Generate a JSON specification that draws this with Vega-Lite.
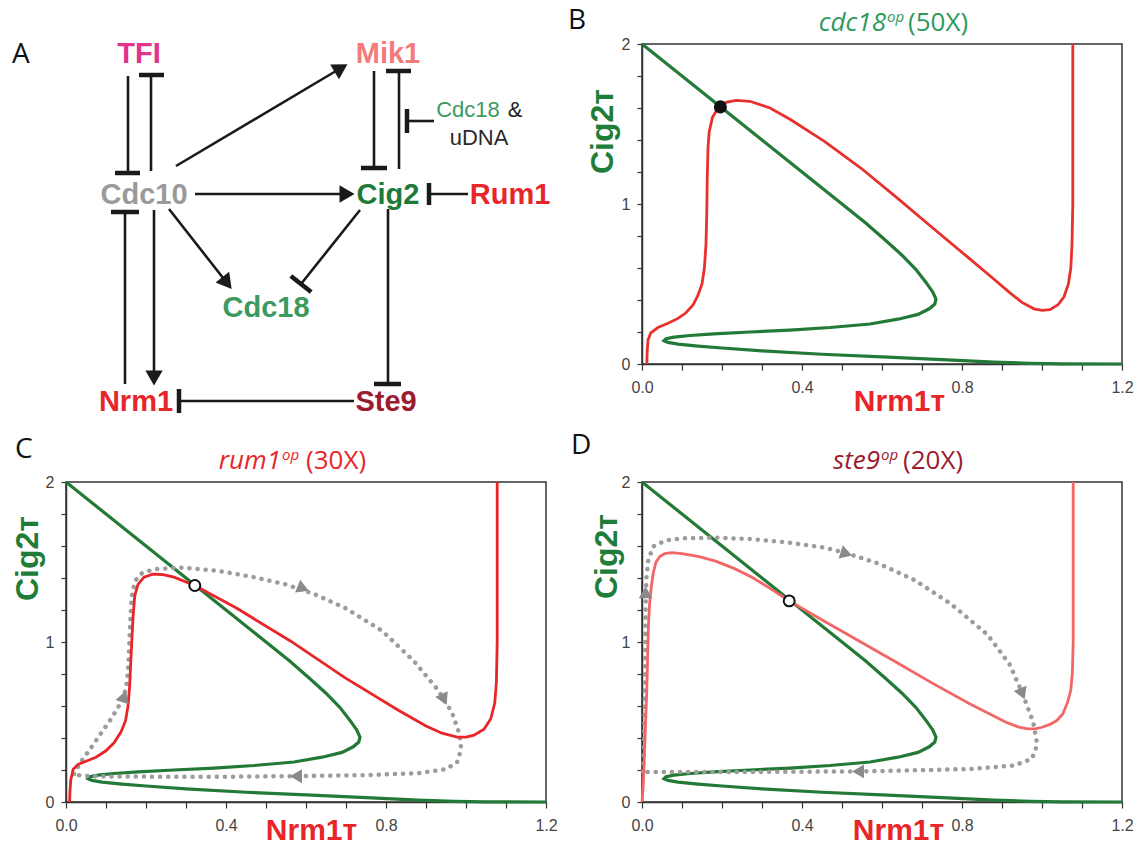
{
  "$schema": "https://vega.github.io/schema/vega-lite/v6.json",
  "padding": {"left": 10, "top": 6, "right": 0, "bottom": 0},
  "config": {
    "font": "Liberation Sans",
    "view": {"stroke": "#333333", "strokeWidth": 1.5},
    "axis": {"grid": false, "domainColor": "#333333", "domainWidth": 1.5, "tickColor": "#333333", "tickWidth": 1.2, "labelFont": "Liberation Sans", "labelFontSize": 16, "labelColor": "#444444", "labelOverlap": false, "labelFlush": false, "titleFont": "Liberation Sans", "titleFontWeight": "bold", "titleFontSize": 30}
  },
  "datasets": {
    "green": [{"x":0,"y":2},{"x":0.1,"y":1.8},{"x":0.2,"y":1.6},{"x":0.3,"y":1.4},{"x":0.4,"y":1.2},{"x":0.5,"y":1.0},{"x":0.56,"y":0.88},{"x":0.61,"y":0.77},{"x":0.65,"y":0.68},{"x":0.685,"y":0.59},{"x":0.71,"y":0.51},{"x":0.727,"y":0.45},{"x":0.735,"y":0.405},{"x":0.732,"y":0.375},{"x":0.718,"y":0.345},{"x":0.69,"y":0.31},{"x":0.64,"y":0.28},{"x":0.57,"y":0.25},{"x":0.47,"y":0.228},{"x":0.37,"y":0.212},{"x":0.27,"y":0.2},{"x":0.18,"y":0.188},{"x":0.12,"y":0.178},{"x":0.08,"y":0.168},{"x":0.06,"y":0.158},{"x":0.055,"y":0.146},{"x":0.065,"y":0.135},{"x":0.09,"y":0.124},{"x":0.14,"y":0.112},{"x":0.2,"y":0.1},{"x":0.3,"y":0.082},{"x":0.45,"y":0.061},{"x":0.6,"y":0.044},{"x":0.75,"y":0.027},{"x":0.88,"y":0.012},{"x":0.97,"y":0.004},{"x":1.05,"y":0.001},{"x":1.2,"y":0}],
    "redB": [{"x":0.012,"y":0},{"x":0.013,"y":0.08},{"x":0.015,"y":0.15},{"x":0.022,"y":0.195},{"x":0.04,"y":0.228},{"x":0.065,"y":0.255},{"x":0.09,"y":0.285},{"x":0.11,"y":0.32},{"x":0.128,"y":0.37},{"x":0.14,"y":0.43},{"x":0.15,"y":0.5},{"x":0.156,"y":0.6},{"x":0.16,"y":0.75},{"x":0.162,"y":0.95},{"x":0.163,"y":1.15},{"x":0.165,"y":1.35},{"x":0.168,"y":1.45},{"x":0.176,"y":1.54},{"x":0.19,"y":1.6},{"x":0.21,"y":1.635},{"x":0.235,"y":1.648},{"x":0.27,"y":1.642},{"x":0.32,"y":1.6},{"x":0.37,"y":1.53},{"x":0.457,"y":1.39},{"x":0.547,"y":1.225},{"x":0.637,"y":1.04},{"x":0.727,"y":0.85},{"x":0.818,"y":0.66},{"x":0.88,"y":0.53},{"x":0.92,"y":0.445},{"x":0.95,"y":0.385},{"x":0.98,"y":0.345},{"x":1.0,"y":0.335},{"x":1.02,"y":0.34},{"x":1.04,"y":0.37},{"x":1.055,"y":0.42},{"x":1.066,"y":0.5},{"x":1.072,"y":0.6},{"x":1.075,"y":0.75},{"x":1.077,"y":1.0},{"x":1.077,"y":1.5},{"x":1.077,"y":2.0}],
    "redC": [{"x":0.009,"y":0},{"x":0.01,"y":0.07},{"x":0.012,"y":0.14},{"x":0.018,"y":0.205},{"x":0.03,"y":0.235},{"x":0.05,"y":0.255},{"x":0.075,"y":0.28},{"x":0.1,"y":0.32},{"x":0.12,"y":0.37},{"x":0.138,"y":0.44},{"x":0.149,"y":0.51},{"x":0.155,"y":0.6},{"x":0.159,"y":0.72},{"x":0.162,"y":0.88},{"x":0.165,"y":1.03},{"x":0.168,"y":1.17},{"x":0.172,"y":1.29},{"x":0.18,"y":1.36},{"x":0.195,"y":1.405},{"x":0.217,"y":1.424},{"x":0.24,"y":1.422},{"x":0.27,"y":1.405},{"x":0.322,"y":1.353},{"x":0.426,"y":1.212},{"x":0.562,"y":1.005},{"x":0.697,"y":0.777},{"x":0.833,"y":0.57},{"x":0.9,"y":0.475},{"x":0.94,"y":0.43},{"x":0.978,"y":0.405},{"x":1.0,"y":0.405},{"x":1.02,"y":0.418},{"x":1.045,"y":0.455},{"x":1.062,"y":0.52},{"x":1.072,"y":0.62},{"x":1.076,"y":0.75},{"x":1.078,"y":1.0},{"x":1.078,"y":1.5},{"x":1.078,"y":2.0}],
    "redD": [{"x":0.0,"y":0},{"x":0.003,"y":0.1},{"x":0.006,"y":0.3},{"x":0.009,"y":0.5},{"x":0.012,"y":0.7},{"x":0.014,"y":0.9},{"x":0.016,"y":1.1},{"x":0.019,"y":1.24},{"x":0.023,"y":1.34},{"x":0.028,"y":1.43},{"x":0.035,"y":1.5},{"x":0.045,"y":1.535},{"x":0.057,"y":1.552},{"x":0.075,"y":1.558},{"x":0.1,"y":1.553},{"x":0.14,"y":1.535},{"x":0.184,"y":1.505},{"x":0.23,"y":1.46},{"x":0.275,"y":1.405},{"x":0.32,"y":1.335},{"x":0.368,"y":1.257},{"x":0.456,"y":1.13},{"x":0.547,"y":1.0},{"x":0.638,"y":0.87},{"x":0.728,"y":0.74},{"x":0.819,"y":0.614},{"x":0.91,"y":0.498},{"x":0.94,"y":0.47},{"x":0.964,"y":0.457},{"x":0.985,"y":0.458},{"x":1.0,"y":0.467},{"x":1.02,"y":0.485},{"x":1.037,"y":0.509},{"x":1.052,"y":0.55},{"x":1.064,"y":0.624},{"x":1.072,"y":0.7},{"x":1.076,"y":0.813},{"x":1.078,"y":1.0},{"x":1.078,"y":1.5},{"x":1.078,"y":2.0}],
    "trajC": [{"x":0.02,"y":0.175},{"x":0.025,"y":0.2},{"x":0.04,"y":0.26},{"x":0.06,"y":0.33},{"x":0.085,"y":0.42},{"x":0.11,"y":0.51},{"x":0.13,"y":0.59},{"x":0.145,"y":0.66},{"x":0.153,"y":0.76},{"x":0.157,"y":0.9},{"x":0.16,"y":1.1},{"x":0.164,"y":1.28},{"x":0.172,"y":1.38},{"x":0.19,"y":1.43},{"x":0.22,"y":1.455},{"x":0.29,"y":1.465},{"x":0.38,"y":1.445},{"x":0.47,"y":1.405},{"x":0.55,"y":1.36},{"x":0.62,"y":1.3},{"x":0.7,"y":1.21},{"x":0.79,"y":1.07},{"x":0.87,"y":0.88},{"x":0.93,"y":0.7},{"x":0.965,"y":0.56},{"x":0.983,"y":0.43},{"x":0.988,"y":0.33},{"x":0.978,"y":0.25},{"x":0.95,"y":0.205},{"x":0.88,"y":0.18},{"x":0.75,"y":0.168},{"x":0.58,"y":0.162},{"x":0.4,"y":0.158},{"x":0.25,"y":0.158},{"x":0.1,"y":0.16},{"x":0.04,"y":0.163},{"x":0.02,"y":0.175}],
    "trajD": [{"x":0.003,"y":0.19},{"x":0.005,"y":0.35},{"x":0.007,"y":0.6},{"x":0.008,"y":0.9},{"x":0.009,"y":1.2},{"x":0.011,"y":1.4},{"x":0.016,"y":1.52},{"x":0.03,"y":1.6},{"x":0.06,"y":1.635},{"x":0.1,"y":1.648},{"x":0.184,"y":1.652},{"x":0.275,"y":1.643},{"x":0.366,"y":1.622},{"x":0.456,"y":1.59},{"x":0.511,"y":1.555},{"x":0.592,"y":1.49},{"x":0.683,"y":1.385},{"x":0.774,"y":1.235},{"x":0.864,"y":1.045},{"x":0.919,"y":0.86},{"x":0.951,"y":0.68},{"x":0.978,"y":0.5},{"x":0.988,"y":0.36},{"x":0.975,"y":0.27},{"x":0.93,"y":0.228},{"x":0.82,"y":0.206},{"x":0.64,"y":0.196},{"x":0.54,"y":0.191},{"x":0.275,"y":0.188},{"x":0.093,"y":0.188},{"x":0.003,"y":0.188}],
    "arrowsC": [{"x":0.145,"y":0.66,"angle":18},{"x":0.593,"y":1.335,"angle":112},{"x":0.945,"y":0.64,"angle":155},{"x":0.575,"y":0.161,"angle":270}],
    "arrowsD": [{"x":0.009,"y":1.31,"angle":0},{"x":0.511,"y":1.552,"angle":107},{"x":0.951,"y":0.676,"angle":158},{"x":0.54,"y":0.191,"angle":270}],
    "nodes": [{"label":"TFI","x":73,"y":10},{"label":"Mik1","x":322,"y":10},{"label":"Cdc10","x":78,"y":151},{"label":"Cig2","x":322,"y":151},{"label":"Rum1","x":444,"y":151},{"label":"Cdc18","x":200,"y":264},{"label":"Nrm1","x":70,"y":358},{"label":"Ste9","x":320,"y":358}],
    "notes": [{"label":"Cdc18","x":402,"y":66},{"label":"&","x":449,"y":66},{"label":"uDNA","x":413,"y":94}],
    "edges": [{"x":62,"y":32,"x2":62,"y2":129},{"x":85,"y":127,"x2":85,"y2":31},{"x":110,"y":122,"x2":275,"y2":24},{"x":308,"y":27,"x2":308,"y2":124},{"x":333,"y":125,"x2":333,"y2":27},{"x":368,"y":77,"x2":341,"y2":77},{"x":129,"y":150,"x2":281,"y2":150},{"x":402,"y":150,"x2":363,"y2":150},{"x":103,"y":165,"x2":161,"y2":239},{"x":294,"y":166,"x2":235,"y2":240},{"x":59,"y":340,"x2":59,"y2":168},{"x":88,"y":166,"x2":88,"y2":334},{"x":322,"y":165,"x2":322,"y2":340},{"x":288,"y":357,"x2":113,"y2":357}],
    "bars": [{"x":49,"y":129,"x2":74,"y2":129},{"x":73,"y":31,"x2":98,"y2":31},{"x":295,"y":124,"x2":321,"y2":124},{"x":320,"y":27,"x2":345,"y2":27},{"x":341,"y":65,"x2":341,"y2":89},{"x":363,"y":139,"x2":363,"y2":161},{"x":224.8,"y":231.9,"x2":245.2,"y2":248.1},{"x":45,"y":168,"x2":73,"y2":168},{"x":308,"y":340,"x2":335,"y2":340},{"x":113,"y":345,"x2":113,"y2":369}],
    "heads": [{"x":275,"y":24,"angle":59.3},{"x":281,"y":150,"angle":90},{"x":161,"y":239,"angle":141.9},{"x":88,"y":334,"angle":180}]
  },
  "concat": [
    {
      "width": 480, "height": 320,
      "view": {"stroke": null},
      "layer": [
        {"data": {"name": "edges"}, "mark": {"type": "rule", "color": "#1a1a1a", "strokeWidth": 2.6},
         "encoding": {"x": {"field": "x", "type": "quantitative", "scale": {"domain": [0, 480], "nice": false, "zero": false}, "axis": null},
                      "y": {"field": "y", "type": "quantitative", "scale": {"domain": [0, 320], "nice": false, "zero": false, "reverse": true}, "axis": null},
                      "x2": {"field": "x2"}, "y2": {"field": "y2"}}},
        {"data": {"name": "bars"}, "mark": {"type": "rule", "color": "#1a1a1a", "strokeWidth": 4.5},
         "encoding": {"x": {"field": "x", "type": "quantitative", "scale": {"domain": [0, 480], "nice": false, "zero": false}, "axis": null},
                      "y": {"field": "y", "type": "quantitative", "scale": {"domain": [0, 320], "nice": false, "zero": false, "reverse": true}, "axis": null},
                      "x2": {"field": "x2"}, "y2": {"field": "y2"}}},
        {"data": {"name": "heads"}, "mark": {"type": "point", "shape": "triangle-up", "filled": true, "color": "#1a1a1a", "opacity": 1, "size": 300},
         "encoding": {"x": {"field": "x", "type": "quantitative", "scale": {"domain": [0, 480], "nice": false, "zero": false}, "axis": null},
                      "y": {"field": "y", "type": "quantitative", "scale": {"domain": [0, 320], "nice": false, "zero": false, "reverse": true}, "axis": null},
                      "angle": {"field": "angle", "type": "quantitative", "scale": null}}},
        {"data": {"name": "nodes"}, "mark": {"type": "text", "font": "Liberation Sans", "fontWeight": "bold", "fontSize": 29, "align": "center", "baseline": "middle"},
         "encoding": {"x": {"field": "x", "type": "quantitative", "scale": {"domain": [0, 480], "nice": false, "zero": false}, "axis": null},
                      "y": {"field": "y", "type": "quantitative", "scale": {"domain": [0, 320], "nice": false, "zero": false, "reverse": true}, "axis": null},
                      "text": {"field": "label"},
                      "color": {"field": "label", "type": "nominal", "legend": null,
                                "scale": {"domain": ["TFI", "Mik1", "Cdc10", "Cig2", "Rum1", "Cdc18", "Nrm1", "Ste9", "&", "uDNA"],
                                          "range": ["#e2338d", "#f37b7b", "#9a9a9a", "#1e7a38", "#e8262a", "#3a9a60", "#e8262a", "#9b1c2e", "#222222", "#2a2a2a"]}}}},
        {"data": {"name": "notes"}, "mark": {"type": "text", "font": "Liberation Sans", "fontSize": 22, "align": "center", "baseline": "middle"},
         "encoding": {"x": {"field": "x", "type": "quantitative", "scale": {"domain": [0, 480], "nice": false, "zero": false}, "axis": null},
                      "y": {"field": "y", "type": "quantitative", "scale": {"domain": [0, 320], "nice": false, "zero": false, "reverse": true}, "axis": null},
                      "text": {"field": "label"},
                      "color": {"field": "label", "type": "nominal", "legend": null}}},
        {"data": {"values": [{}]}, "mark": {"type": "text", "font": "Open Sans", "fontSize": 28, "align": "left", "baseline": "alphabetic", "color": "#111111"},
         "encoding": {"x": {"datum": -54, "type": "quantitative", "scale": {"domain": [0, 480], "nice": false, "zero": false}, "axis": null},
                      "y": {"datum": 19, "type": "quantitative", "scale": {"domain": [0, 320], "nice": false, "zero": false, "reverse": true}, "axis": null},
                      "text": {"value": "A"}}}
      ]
    },
    {
      "width": 480, "height": 320,
      "resolve": {"axis": {"x": "independent", "y": "independent"}},
      "layer": [
        {"data": {"name": "green"}, "mark": {"type": "line", "color": "#237a36", "strokeWidth": 3.2},
         "encoding": {
           "x": {"field": "x", "type": "quantitative", "scale": {"domain": [0, 1.2], "nice": false, "zero": false},
                 "axis": {"values": [0, 0.1, 0.2, 0.3, 0.4, 0.5, 0.6, 0.7, 0.8, 0.9, 1, 1.1, 1.2], "labelExpr": "round(datum.value*10) % 4 == 0 ? format(datum.value, '.1f') : ''", "tickSize": 6, "labelPadding": 9,
                          "title": "Nrm1ᴛ", "titleColor": "#e8262a", "titleX": 257, "titleY": 46, "titleBaseline": "alphabetic", "titleAlign": "center"}},
           "y": {"field": "y", "type": "quantitative", "scale": {"domain": [0, 2], "nice": false, "zero": false},
                 "axis": {"values": [0, 0.2, 0.4, 0.6, 0.8, 1, 1.2, 1.4, 1.6, 1.8, 2], "labelExpr": "round(datum.value*10) % 10 == 0 ? format(datum.value, 'd') : ''", "tickSize": 5, "labelPadding": 7,
                          "title": "Cig2ᴛ", "titleFontSize": 32, "titleColor": "#1e7d38", "titleX": -30, "titleY": 87, "titleAngle": 270, "titleBaseline": "alphabetic", "titleAlign": "center"}},
           "order": {"value": null}}},
        {"data": {"name": "redB"}, "mark": {"type": "line", "color": "#e8302c", "strokeWidth": 2.8},
         "encoding": {"x": {"field": "x", "type": "quantitative", "scale": {"domain": [0, 1.2], "nice": false, "zero": false}, "axis": null},
                      "y": {"field": "y", "type": "quantitative", "scale": {"domain": [0, 2], "nice": false, "zero": false}, "axis": null},
                      "order": {"value": null}}},
        {"data": {"values": [{"x": 0.196, "y": 1.607}]}, "mark": {"type": "point", "shape": "circle", "filled": true, "color": "#111111", "opacity": 1, "size": 170},
         "encoding": {"x": {"field": "x", "type": "quantitative", "scale": {"domain": [0, 1.2], "nice": false, "zero": false}, "axis": null},
                      "y": {"field": "y", "type": "quantitative", "scale": {"domain": [0, 2], "nice": false, "zero": false}, "axis": null}}},
        {"data": {"values": [{}]}, "mark": {"type": "text", "font": "Open Sans", "fontSize": 28, "align": "left", "baseline": "alphabetic", "color": "#111111"},
         "encoding": {"x": {"datum": -0.185, "type": "quantitative", "scale": {"domain": [0, 1.2], "nice": false, "zero": false}, "axis": null},
                      "y": {"datum": 2.094, "type": "quantitative", "scale": {"domain": [0, 2], "nice": false, "zero": false}, "axis": null},
                      "text": {"value": "B"}}},
        {"data": {"values": [{}]}, "mark": {"type": "text", "font": "Open Sans", "fontSize": 26, "fontStyle": "italic", "align": "right", "baseline": "alphabetic", "color": "#2f9a5c"},
         "encoding": {"x": {"datum": 0.61, "type": "quantitative", "scale": {"domain": [0, 1.2], "nice": false, "zero": false}, "axis": null},
                      "y": {"datum": 2.0815, "type": "quantitative", "scale": {"domain": [0, 2], "nice": false, "zero": false}, "axis": null},
                      "text": {"value": "cdc18"}}},
        {"data": {"values": [{}]}, "mark": {"type": "text", "font": "Open Sans", "fontSize": 15, "fontStyle": "italic", "align": "left", "baseline": "alphabetic", "color": "#2f9a5c"},
         "encoding": {"x": {"datum": 0.6125, "type": "quantitative", "scale": {"domain": [0, 1.2], "nice": false, "zero": false}, "axis": null},
                      "y": {"datum": 2.138, "type": "quantitative", "scale": {"domain": [0, 2], "nice": false, "zero": false}, "axis": null},
                      "text": {"value": "op"}}},
        {"data": {"values": [{}]}, "mark": {"type": "text", "font": "Open Sans", "fontSize": 26, "align": "left", "baseline": "alphabetic", "color": "#2f9a5c"},
         "encoding": {"x": {"datum": 0.665, "type": "quantitative", "scale": {"domain": [0, 1.2], "nice": false, "zero": false}, "axis": null},
                      "y": {"datum": 2.0815, "type": "quantitative", "scale": {"domain": [0, 2], "nice": false, "zero": false}, "axis": null},
                      "text": {"value": "(50X)"}}}
      ]
    },
    {
      "width": 480, "height": 320,
      "resolve": {"axis": {"x": "independent", "y": "independent"}},
      "layer": [
        {"data": {"name": "green"}, "mark": {"type": "line", "color": "#237a36", "strokeWidth": 3.2},
         "encoding": {
           "x": {"field": "x", "type": "quantitative", "scale": {"domain": [0, 1.2], "nice": false, "zero": false},
                 "axis": {"values": [0, 0.1, 0.2, 0.3, 0.4, 0.5, 0.6, 0.7, 0.8, 0.9, 1, 1.1, 1.2], "labelExpr": "round(datum.value*10) % 4 == 0 ? format(datum.value, '.1f') : ''", "tickSize": 6, "labelPadding": 9,
                          "title": "Nrm1ᴛ", "titleColor": "#e8262a", "titleX": 245, "titleY": 37, "titleBaseline": "alphabetic", "titleAlign": "center"}},
           "y": {"field": "y", "type": "quantitative", "scale": {"domain": [0, 2], "nice": false, "zero": false},
                 "axis": {"values": [0, 0.2, 0.4, 0.6, 0.8, 1, 1.2, 1.4, 1.6, 1.8, 2], "labelExpr": "round(datum.value*10) % 10 == 0 ? format(datum.value, 'd') : ''", "tickSize": 5, "labelPadding": 7,
                          "title": "Cig2ᴛ", "titleFontSize": 32, "titleColor": "#1e7d38", "titleX": -29, "titleY": 76, "titleAngle": 270, "titleBaseline": "alphabetic", "titleAlign": "center"}},
           "order": {"value": null}}},
        {"data": {"name": "trajC"}, "mark": {"type": "line", "color": "#9c9c9c", "strokeWidth": 4.5, "strokeDash": [0.1, 8], "strokeCap": "round"},
         "encoding": {"x": {"field": "x", "type": "quantitative", "scale": {"domain": [0, 1.2], "nice": false, "zero": false}, "axis": null},
                      "y": {"field": "y", "type": "quantitative", "scale": {"domain": [0, 2], "nice": false, "zero": false}, "axis": null},
                      "order": {"value": null}}},
        {"data": {"name": "redC"}, "mark": {"type": "line", "color": "#e8262a", "strokeWidth": 2.8},
         "encoding": {"x": {"field": "x", "type": "quantitative", "scale": {"domain": [0, 1.2], "nice": false, "zero": false}, "axis": null},
                      "y": {"field": "y", "type": "quantitative", "scale": {"domain": [0, 2], "nice": false, "zero": false}, "axis": null},
                      "order": {"value": null}}},
        {"data": {"name": "arrowsC"}, "mark": {"type": "point", "shape": "triangle-up", "filled": true, "color": "#8a8a8a", "opacity": 1, "size": 190},
         "encoding": {"x": {"field": "x", "type": "quantitative", "scale": {"domain": [0, 1.2], "nice": false, "zero": false}, "axis": null},
                      "y": {"field": "y", "type": "quantitative", "scale": {"domain": [0, 2], "nice": false, "zero": false}, "axis": null},
                      "angle": {"field": "angle", "type": "quantitative", "scale": null}}},
        {"data": {"values": [{"x": 0.322, "y": 1.353}]}, "mark": {"type": "point", "shape": "circle", "filled": true, "fill": "#ffffff", "stroke": "#111111", "strokeWidth": 2, "opacity": 1, "size": 120},
         "encoding": {"x": {"field": "x", "type": "quantitative", "scale": {"domain": [0, 1.2], "nice": false, "zero": false}, "axis": null},
                      "y": {"field": "y", "type": "quantitative", "scale": {"domain": [0, 2], "nice": false, "zero": false}, "axis": null}}},
        {"data": {"values": [{}]}, "mark": {"type": "text", "font": "Open Sans", "fontSize": 28, "align": "left", "baseline": "alphabetic", "color": "#111111"},
         "encoding": {"x": {"datum": -0.1275, "type": "quantitative", "scale": {"domain": [0, 1.2], "nice": false, "zero": false}, "axis": null},
                      "y": {"datum": 2.15, "type": "quantitative", "scale": {"domain": [0, 2], "nice": false, "zero": false}, "axis": null},
                      "text": {"value": "C"}}},
        {"data": {"values": [{}]}, "mark": {"type": "text", "font": "Open Sans", "fontSize": 26, "fontStyle": "italic", "align": "right", "baseline": "alphabetic", "color": "#e8262a"},
         "encoding": {"x": {"datum": 0.5375, "type": "quantitative", "scale": {"domain": [0, 1.2], "nice": false, "zero": false}, "axis": null},
                      "y": {"datum": 2.081, "type": "quantitative", "scale": {"domain": [0, 2], "nice": false, "zero": false}, "axis": null},
                      "text": {"value": "rum1"}}},
        {"data": {"values": [{}]}, "mark": {"type": "text", "font": "Open Sans", "fontSize": 15, "fontStyle": "italic", "align": "left", "baseline": "alphabetic", "color": "#e8262a"},
         "encoding": {"x": {"datum": 0.54, "type": "quantitative", "scale": {"domain": [0, 1.2], "nice": false, "zero": false}, "axis": null},
                      "y": {"datum": 2.1375, "type": "quantitative", "scale": {"domain": [0, 2], "nice": false, "zero": false}, "axis": null},
                      "text": {"value": "op"}}},
        {"data": {"values": [{}]}, "mark": {"type": "text", "font": "Open Sans", "fontSize": 26, "align": "left", "baseline": "alphabetic", "color": "#e8262a"},
         "encoding": {"x": {"datum": 0.6, "type": "quantitative", "scale": {"domain": [0, 1.2], "nice": false, "zero": false}, "axis": null},
                      "y": {"datum": 2.081, "type": "quantitative", "scale": {"domain": [0, 2], "nice": false, "zero": false}, "axis": null},
                      "text": {"value": "(30X)"}}}
      ]
    },
    {
      "width": 480, "height": 320,
      "resolve": {"axis": {"x": "independent", "y": "independent"}},
      "layer": [
        {"data": {"name": "green"}, "mark": {"type": "line", "color": "#237a36", "strokeWidth": 3.2},
         "encoding": {
           "x": {"field": "x", "type": "quantitative", "scale": {"domain": [0, 1.2], "nice": false, "zero": false},
                 "axis": {"values": [0, 0.1, 0.2, 0.3, 0.4, 0.5, 0.6, 0.7, 0.8, 0.9, 1, 1.1, 1.2], "labelExpr": "round(datum.value*10) % 4 == 0 ? format(datum.value, '.1f') : ''", "tickSize": 6, "labelPadding": 9,
                          "title": "Nrm1ᴛ", "titleColor": "#e8262a", "titleX": 256, "titleY": 37, "titleBaseline": "alphabetic", "titleAlign": "center"}},
           "y": {"field": "y", "type": "quantitative", "scale": {"domain": [0, 2], "nice": false, "zero": false},
                 "axis": {"values": [0, 0.2, 0.4, 0.6, 0.8, 1, 1.2, 1.4, 1.6, 1.8, 2], "labelExpr": "round(datum.value*10) % 10 == 0 ? format(datum.value, 'd') : ''", "tickSize": 5, "labelPadding": 7,
                          "title": "Cig2ᴛ", "titleFontSize": 32, "titleColor": "#1e7d38", "titleX": -26, "titleY": 74, "titleAngle": 270, "titleBaseline": "alphabetic", "titleAlign": "center"}},
           "order": {"value": null}}},
        {"data": {"name": "trajD"}, "mark": {"type": "line", "color": "#9c9c9c", "strokeWidth": 4.5, "strokeDash": [0.1, 8], "strokeCap": "round"},
         "encoding": {"x": {"field": "x", "type": "quantitative", "scale": {"domain": [0, 1.2], "nice": false, "zero": false}, "axis": null},
                      "y": {"field": "y", "type": "quantitative", "scale": {"domain": [0, 2], "nice": false, "zero": false}, "axis": null},
                      "order": {"value": null}}},
        {"data": {"name": "redD"}, "mark": {"type": "line", "color": "#f26666", "strokeWidth": 2.8},
         "encoding": {"x": {"field": "x", "type": "quantitative", "scale": {"domain": [0, 1.2], "nice": false, "zero": false}, "axis": null},
                      "y": {"field": "y", "type": "quantitative", "scale": {"domain": [0, 2], "nice": false, "zero": false}, "axis": null},
                      "order": {"value": null}}},
        {"data": {"name": "arrowsD"}, "mark": {"type": "point", "shape": "triangle-up", "filled": true, "color": "#8a8a8a", "opacity": 1, "size": 190},
         "encoding": {"x": {"field": "x", "type": "quantitative", "scale": {"domain": [0, 1.2], "nice": false, "zero": false}, "axis": null},
                      "y": {"field": "y", "type": "quantitative", "scale": {"domain": [0, 2], "nice": false, "zero": false}, "axis": null},
                      "angle": {"field": "angle", "type": "quantitative", "scale": null}}},
        {"data": {"values": [{"x": 0.368, "y": 1.257}]}, "mark": {"type": "point", "shape": "circle", "filled": true, "fill": "#ffffff", "stroke": "#111111", "strokeWidth": 2, "opacity": 1, "size": 120},
         "encoding": {"x": {"field": "x", "type": "quantitative", "scale": {"domain": [0, 1.2], "nice": false, "zero": false}, "axis": null},
                      "y": {"field": "y", "type": "quantitative", "scale": {"domain": [0, 2], "nice": false, "zero": false}, "axis": null}}},
        {"data": {"values": [{}]}, "mark": {"type": "text", "font": "Open Sans", "fontSize": 28, "align": "left", "baseline": "alphabetic", "color": "#111111"},
         "encoding": {"x": {"datum": -0.1775, "type": "quantitative", "scale": {"domain": [0, 1.2], "nice": false, "zero": false}, "axis": null},
                      "y": {"datum": 2.175, "type": "quantitative", "scale": {"domain": [0, 2], "nice": false, "zero": false}, "axis": null},
                      "text": {"value": "D"}}},
        {"data": {"values": [{}]}, "mark": {"type": "text", "font": "Open Sans", "fontSize": 26, "fontStyle": "italic", "align": "right", "baseline": "alphabetic", "color": "#9b1c2e"},
         "encoding": {"x": {"datum": 0.595, "type": "quantitative", "scale": {"domain": [0, 1.2], "nice": false, "zero": false}, "axis": null},
                      "y": {"datum": 2.081, "type": "quantitative", "scale": {"domain": [0, 2], "nice": false, "zero": false}, "axis": null},
                      "text": {"value": "ste9"}}},
        {"data": {"values": [{}]}, "mark": {"type": "text", "font": "Open Sans", "fontSize": 15, "fontStyle": "italic", "align": "left", "baseline": "alphabetic", "color": "#9b1c2e"},
         "encoding": {"x": {"datum": 0.5975, "type": "quantitative", "scale": {"domain": [0, 1.2], "nice": false, "zero": false}, "axis": null},
                      "y": {"datum": 2.1375, "type": "quantitative", "scale": {"domain": [0, 2], "nice": false, "zero": false}, "axis": null},
                      "text": {"value": "op"}}},
        {"data": {"values": [{}]}, "mark": {"type": "text", "font": "Open Sans", "fontSize": 26, "align": "left", "baseline": "alphabetic", "color": "#9b1c2e"},
         "encoding": {"x": {"datum": 0.6525, "type": "quantitative", "scale": {"domain": [0, 1.2], "nice": false, "zero": false}, "axis": null},
                      "y": {"datum": 2.081, "type": "quantitative", "scale": {"domain": [0, 2], "nice": false, "zero": false}, "axis": null},
                      "text": {"value": "(20X)"}}}
      ]
    }
  ],
  "columns": 2,
  "spacing": {"row": 118, "column": 96},
  "bounds": "flush",
  "align": "all"
}
